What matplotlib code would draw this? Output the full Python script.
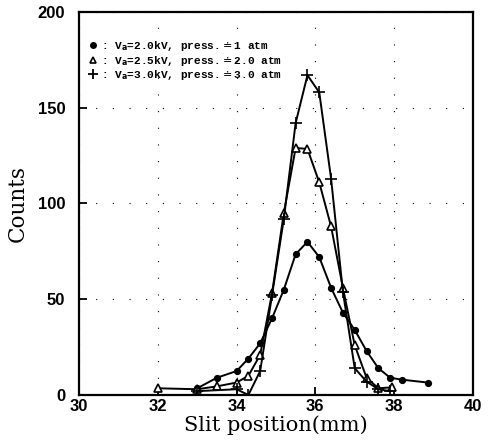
#!/usr/bin/env python3
# Slit scan counts for three accelerating voltages / pressures
import matplotlib
matplotlib.use("Agg")
from matplotlib import pyplot as plt
from matplotlib.lines import Line2D

# 2.0 kV, 1 atm (filled dots)
xDots = [33.0, 33.5, 34.0, 34.3, 34.6, 34.9, 35.2, 35.5, 35.8, 36.1, 36.4, 36.7, 37.0, 37.3, 37.6, 37.9, 38.2, 38.85]
yDots = [3.5, 9, 12.5, 19, 27, 40, 55, 73.5, 80, 72, 56, 43, 34, 23, 14, 9, 8, 6.5]

# 2.5 kV, 2.0 atm (open triangles)
xTri = [32.0, 33.0, 33.5, 34.0, 34.3, 34.6, 34.9, 35.2, 35.5, 35.8, 36.1, 36.4, 36.7, 37.0, 37.3, 37.6, 37.95]
yTri = [3.5, 3, 4.5, 6.5, 10, 21, 53, 95, 129, 128.5, 111, 88, 56, 26, 9, 3.5, 4]

# 3.0 kV, 3.0 atm (plus)
xPlus = [33.0, 34.0, 34.3, 34.6, 34.9, 35.2, 35.5, 35.8, 36.1, 36.4, 36.7, 37.0, 37.3, 37.6, 37.9]
yPlus = [2, 3, 0, 12.5, 52, 92, 142, 167, 158, 113, 54, 14, 7, 3, 2]

labels = [r": V$_\mathbf{a}$=2.0kV, press.$\doteq$1 atm",
          r": V$_\mathbf{a}$=2.5kV, press.$\doteq$2.0 atm",
          r": V$_\mathbf{a}$=3.0kV, press.$\doteq$3.0 atm"]

xTicks = [30, 32, 34, 36, 38, 40]
yTicks = [0, 50, 100, 150, 200]

fig = plt.figure()
px = 1/100
fig.set_size_inches(489*px, 444*px)
ax = fig.add_axes([0.1616, 0.1104, 0.8054, 0.8626])

lw = 1.4
ax.plot(xDots, yDots, color="black", linewidth=lw, marker="o", markersize=4.2)
ax.plot(xTri, yTri, color="black", linewidth=lw, marker="^", markersize=6,
        markerfacecolor="white", markeredgewidth=1.2)
ax.plot(xPlus, yPlus, color="black", linewidth=lw, marker="+", markersize=9, markeredgewidth=1.2)

ax.set_xlim(30, 40)
ax.set_ylim(0, 200)
ax.set_xticks(xTicks)
ax.set_yticks(yTicks)
ax.grid(True, color="black", linewidth=0.8, linestyle=(0, (1, 14)))
ax.tick_params(direction="in", length=6, width=1.3)
ax.tick_params(axis="y", pad=10)
ax.tick_params(axis="x", pad=3)
for lbl in ax.get_xticklabels() + ax.get_yticklabels():
    lbl.set_fontfamily("Liberation Sans")
    lbl.set_fontweight("bold")
    lbl.set_fontsize(12)
for sp in ax.spines.values():
    sp.set_linewidth(1.6)

ax.set_xlabel("Slit position(mm)", fontfamily="DejaVu Serif", fontsize=15, labelpad=1)
ax.set_ylabel("Counts", fontfamily="DejaVu Serif", fontsize=15.5, labelpad=6)

handles = [Line2D([], [], color="black", linestyle="none", marker="o", markersize=4),
           Line2D([], [], color="black", linestyle="none", marker="^", markersize=5,
                  markerfacecolor="white", markeredgewidth=1.2),
           Line2D([], [], color="black", linestyle="none", marker="+", markersize=7, markeredgewidth=1.3)]
ax.legend(handles=handles, labels=labels, loc="upper left", bbox_to_anchor=(-0.005, 0.955),
          frameon=False, handlelength=1.0, handletextpad=0.3, labelspacing=0.05,
          prop={"family": "Liberation Mono", "weight": "bold", "size": 8})

fig.savefig("out.png", dpi=100)
